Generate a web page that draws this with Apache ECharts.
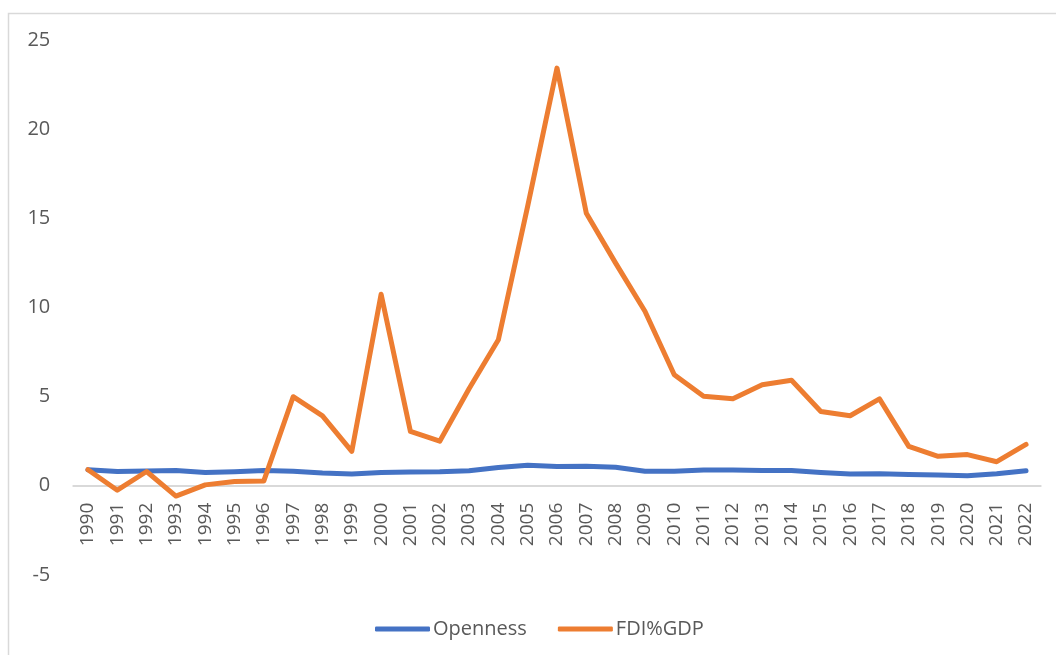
<!DOCTYPE html>
<html>
<head>
<meta charset="utf-8">
<script src="https://cdn.jsdelivr.net/npm/echarts@6/dist/echarts.min.js"></script>
<style>
  html, body { margin: 0; padding: 0; background: #fff; }
  #chart { width: 1056px; height: 655px; }
</style>
</head>
<body>
<div id="chart"></div>
<script>
var years = ['1990','1991','1992','1993','1994','1995','1996','1997','1998','1999',
             '2000','2001','2002','2003','2004','2005','2006','2007','2008','2009',
             '2010','2011','2012','2013','2014','2015','2016','2017','2018','2019',
             '2020','2021','2022'];

var openness = [0.90, 0.80, 0.83, 0.85, 0.75, 0.79, 0.86, 0.82, 0.71, 0.66,
                0.74, 0.77, 0.78, 0.84, 1.03, 1.15, 1.08, 1.10, 1.04, 0.81,
                0.81, 0.89, 0.89, 0.86, 0.86, 0.75, 0.66, 0.68, 0.63, 0.60,
                0.56, 0.68, 0.84];

var fdiGdp = [0.90, -0.25, 0.80, -0.58, 0.05, 0.24, 0.27, 5.00, 3.92, 1.93,
              10.75, 3.05, 2.50, 5.45, 8.20, 15.70, 23.45, 15.30, 12.50, 9.80,
              6.23, 5.02, 4.88, 5.67, 5.92, 4.17, 3.93, 4.88, 2.21, 1.65,
              1.75, 1.35, 2.32];

var yTicks = { min: -5, max: 25, step: 5 };

var gridTop = 40.5, gridBottom = 80.2, chartH = 655;
// place the category axis on the zero line (labels included)
var plotH = chartH - gridTop - gridBottom;
var zeroOffset = -plotH * (0 - yTicks.min) / (yTicks.max - yTicks.min);

var chart = echarts.init(document.getElementById('chart'));

var option = {
    backgroundColor: '#ffffff',
    animation: false,
    graphic: [{
        type: 'rect',
        shape: { x: 8.5, y: 13.5, width: 1100, height: 700 },
        style: { fill: 'none', stroke: '#d9d9d9', lineWidth: 1.5 },
        silent: true
    }],
    grid: {
        left: 73.3,
        right: 15.3,
        top: gridTop,
        bottom: gridBottom,
        containLabel: false
    },
    legend: {
        left: 370,
        top: 614,
        itemWidth: 55,
        itemHeight: 5,
        itemGap: 31,
        icon: 'roundRect',
        textStyle: {
            fontFamily: 'Open Sans',
            fontSize: 20,
            color: '#595959',
            padding: [0, 0, 0, -2]
        },
        data: ['Openness', 'FDI%GDP']
    },
    xAxis: {
        type: 'category',
        data: years,
        boundaryGap: true,
        position: 'bottom',
        offset: zeroOffset,
        axisLine: { onZero: false, lineStyle: { color: '#d9d9d9', width: 2 } },
        axisTick: { show: false },
        axisLabel: {
            rotate: 90,
            interval: 0,
            margin: 17,
            fontFamily: 'Open Sans',
            fontSize: 19,
            color: '#595959'
        },
        splitLine: { show: false }
    },
    yAxis: {
        type: 'value',
        min: yTicks.min,
        max: yTicks.max,
        interval: yTicks.step,
        axisLine: { show: false },
        axisTick: { show: false },
        splitLine: { show: false },
        axisLabel: {
            margin: 23,
            fontFamily: 'Open Sans',
            fontSize: 20,
            color: '#595959'
        }
    },
    series: [
        {
            name: 'Openness',
            type: 'line',
            data: openness,
            symbol: 'none',
            color: '#4472C4',
            lineStyle: { width: 5, color: '#4472C4', cap: 'round', join: 'round' }
        },
        {
            name: 'FDI%GDP',
            type: 'line',
            data: fdiGdp,
            symbol: 'none',
            color: '#ED7D31',
            lineStyle: { width: 5, color: '#ED7D31', cap: 'round', join: 'round' }
        }
    ]
};

chart.setOption(option);
</script>
</body>
</html>
